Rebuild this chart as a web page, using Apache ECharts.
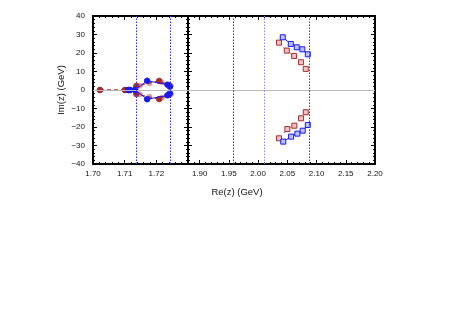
<!DOCTYPE html>
<html>
<head>
<meta charset="utf-8">
<script src="https://cdn.jsdelivr.net/npm/echarts@6/dist/echarts.min.js"></script>
<style>html,body{margin:0;padding:0;background:#fff}#c{width:470px;height:329px}</style>
</head>
<body>
<div id="c"></div>
<script>
// ---------- data ----------
// Left panel (Re 1.70 - 1.73)
const leftBlueX      = [1.7112, 1.7117, 1.7133, 1.7171, 1.7235, 1.7243];
const leftBlueUpperY = [0, 0, 0, 5.0, 2.9, 1.8];
const leftBlueLowerY = [0, 0, 0, -5.0, -2.9, -1.8];
const leftRedX       = [1.7022, 1.7101, 1.7137, 1.7209, 1.7241];
const leftRedUpperY  = [0, 0, 2.2, 4.9, 2.3];
const leftRedLowerY  = [0, 0, -2.2, -4.9, -2.3];
const leftPinkX      = [1.7148, 1.7178, 1.7217, 1.7246];
const leftPinkUpperY = [2.3, 3.6, 4.2, 2.3];
const leftPinkLowerY = [-2.3, -3.6, -4.2, -2.3];
// Right panel (Re 1.88 - 2.20)
const rightBlueUpperX = [2.0422, 2.0559, 2.0661, 2.0757, 2.0850];
const rightBlueUpperY = [28.5, 24.9, 23.1, 22.0, 19.3];
const rightBlueLowerX = [2.0430, 2.0564, 2.0672, 2.0763, 2.0850];
const rightBlueLowerY = [-27.9, -25.2, -23.6, -22.0, -18.9];
const rightRedUpperX  = [2.0358, 2.0490, 2.0615, 2.0735, 2.0815];
const rightRedUpperY  = [25.6, 21.3, 18.4, 15.0, 11.4];
const rightRedLowerX  = [2.0358, 2.0500, 2.0620, 2.0735, 2.0815];
const rightRedLowerY  = [-26.1, -21.1, -19.3, -15.3, -12.0];
// reference lines
const leftVLines  = [1.7135, 1.7243];
const rightVLines = [1.9575, 2.0877];
const rightVLinesLight = [2.0100];
// tick labels
const leftXTicks  = [1.70, 1.71, 1.72];
const rightXTicks = [1.90, 1.95, 2.00, 2.05, 2.10, 2.15, 2.20];
const yTicks = [-40, -30, -20, -10, 0, 10, 20, 30, 40];

const xLabel = 'Re(z) (GeV)';
const yLabel = 'Im(z) (GeV)';

// ---------- helpers ----------
const zip = (xs, ys) => xs.map((x, i) => [x, ys[i]]);
const FONT = 'Liberation Sans';
const BLUE = '#1a1af0';
const RED = '#a82c2c';
const axisLine = { show: true, onZero: false, lineStyle: { color: '#000', width: 2 } };
const noLine = { show: false, onZero: false };

function yAxis(grid, pos, labels) {
  return {
    type: 'value', gridIndex: grid, position: pos, min: -40, max: 40, interval: 10,
    axisLine: axisLine,
    axisTick: { show: true, inside: true, length: 4, lineStyle: { color: '#000', width: 1 } },
    minorTick: { show: true, splitNumber: 5, length: 2, lineStyle: { color: '#000', width: 1 } },
    splitLine: { show: false },
    axisLabel: labels ? {
      show: true, fontFamily: FONT, fontSize: 8, color: '#111', margin: 8,
      formatter: v => (yTicks.indexOf(v) >= 0 ? String(v).replace('-', '\u2212') : '')
    } : { show: false },
    name: labels ? yLabel : '',
    nameLocation: 'middle', nameRotate: 90, nameGap: 27,
    nameTextStyle: { fontFamily: FONT, fontSize: 9.5, color: '#111' }
  };
}

const xAxes = [
  // 0: left bottom
  {
    type: 'value', gridIndex: 0, position: 'bottom', min: 1.70, max: 1.73, interval: 0.01,
    axisLine: axisLine,
    axisTick: { show: true, inside: true, length: 4, lineStyle: { color: '#000' } },
    minorTick: { show: true, splitNumber: 5, length: 2, lineStyle: { color: '#000' } },
    splitLine: { show: false },
    axisLabel: {
      fontFamily: FONT, fontSize: 8, color: '#111', margin: 6,
      formatter: v => (leftXTicks.some(t => Math.abs(t - v) < 1e-6) ? v.toFixed(2) : '')
    }
  },
  // 1: left top
  {
    type: 'value', gridIndex: 0, position: 'top', min: 1.70, max: 1.73, interval: 0.01,
    axisLine: axisLine,
    axisTick: { show: true, inside: true, length: 4, lineStyle: { color: '#000' } },
    minorTick: { show: true, splitNumber: 5, length: 2, lineStyle: { color: '#000' } },
    splitLine: { show: false }, axisLabel: { show: false }
  },
  // 2: right bottom major
  {
    type: 'value', gridIndex: 1, position: 'bottom', min: 1.88, max: 2.20,
    axisLine: axisLine,
    axisTick: { show: true, inside: true, length: 4, customValues: rightXTicks, lineStyle: { color: '#000' } },
    splitLine: { show: false },
    axisLabel: {
      fontFamily: FONT, fontSize: 8, color: '#111', margin: 6, customValues: rightXTicks,
      formatter: v => v.toFixed(2)
    }
  },
  // 3: right bottom minor
  {
    type: 'value', gridIndex: 1, position: 'bottom', min: 1.88, max: 2.20, interval: 0.01,
    axisLine: noLine,
    axisTick: { show: true, inside: true, length: 2, lineStyle: { color: '#000' } },
    splitLine: { show: false }, axisLabel: { show: false }
  },
  // 4: right top major
  {
    type: 'value', gridIndex: 1, position: 'top', min: 1.88, max: 2.20,
    axisLine: axisLine,
    axisTick: { show: true, inside: true, length: 4, customValues: rightXTicks, lineStyle: { color: '#000' } },
    splitLine: { show: false }, axisLabel: { show: false, customValues: rightXTicks }
  },
  // 5: right top minor
  {
    type: 'value', gridIndex: 1, position: 'top', min: 1.88, max: 2.20, interval: 0.01,
    axisLine: noLine,
    axisTick: { show: true, inside: true, length: 2, lineStyle: { color: '#000' } },
    splitLine: { show: false }, axisLabel: { show: false }
  }
];

const yAxes = [yAxis(0, 'left', true), yAxis(0, 'right', false), yAxis(1, 'left', false), yAxis(1, 'right', false)];

function vLines(vals, color) {
  return vals.map(v => ({ xAxis: v, lineStyle: { color: color, type: [1.5, 1.5], width: 1 } }));
}
const zeroLine = { yAxis: 0, lineStyle: { color: '#b8b8b8', type: 'solid', width: 1 } };

function line(grid, data, color, opts) {
  const xi = grid === 0 ? 0 : 2, yi = grid === 0 ? 0 : 2;
  return Object.assign({
    type: 'line', xAxisIndex: xi, yAxisIndex: yi, data: data,
    symbol: 'circle', symbolSize: 5.5, animation: false,
    lineStyle: { color: color, width: 1 },
    itemStyle: { color: color, borderColor: color, borderWidth: 1 },
    z: 3
  }, opts || {});
}

const series = [
  // reference lines (left)
  {
    type: 'line', xAxisIndex: 0, yAxisIndex: 0, data: [], animation: false, silent: true,
    markLine: { symbol: 'none', precision: 5, label: { show: false }, silent: true, animation: false,
      data: [zeroLine].concat(vLines(leftVLines, '#2a2aff')) }
  },
  // reference lines (right)
  {
    type: 'line', xAxisIndex: 2, yAxisIndex: 2, data: [], animation: false, silent: true,
    markLine: { symbol: 'none', precision: 5, label: { show: false }, silent: true, animation: false,
      data: [zeroLine].concat(vLines(rightVLines, '#2a2aff'), vLines(rightVLinesLight, '#8c8cff')) }
  },
  // left pink (faded) markers
  line(0, zip(leftPinkX, leftPinkUpperY), '#e2a0a0', { lineStyle: { width: 0 }, symbolSize: 5, z: 2 }),
  line(0, zip(leftPinkX, leftPinkLowerY), '#e2a0a0', { lineStyle: { width: 0 }, symbolSize: 5, z: 2 }),
  // left red dashed
  line(0, zip(leftRedX, leftRedUpperY), RED, { lineStyle: { color: RED, width: 1.2, type: [4, 3] } }),
  line(0, zip(leftRedX, leftRedLowerY), RED, { lineStyle: { color: RED, width: 1.2, type: [4, 3] } }),
  // left blue solid
  line(0, zip(leftBlueX, leftBlueUpperY), BLUE, { z: 4 }),
  line(0, zip(leftBlueX, leftBlueLowerY), BLUE, { z: 4 }),
  // right red squares dashed
  line(1, zip(rightRedUpperX, rightRedUpperY), RED, { symbol: 'rect', symbolSize: 5,
    lineStyle: { color: RED, width: 1, type: [2, 5] }, itemStyle: { color: '#f0c4c4', borderColor: RED, borderWidth: 1 } }),
  line(1, zip(rightRedLowerX, rightRedLowerY), RED, { symbol: 'rect', symbolSize: 5,
    lineStyle: { color: RED, width: 1, type: [2, 5] }, itemStyle: { color: '#f0c4c4', borderColor: RED, borderWidth: 1 } }),
  // right blue squares solid
  line(1, zip(rightBlueUpperX, rightBlueUpperY), BLUE, { symbol: 'rect', symbolSize: 5,
    itemStyle: { color: '#b8c0ff', borderColor: BLUE, borderWidth: 1 } }),
  line(1, zip(rightBlueLowerX, rightBlueLowerY), BLUE, { symbol: 'rect', symbolSize: 5,
    itemStyle: { color: '#b8c0ff', borderColor: BLUE, borderWidth: 1 } })
];

const chart = echarts.init(document.getElementById('c'), null, { renderer: 'canvas' });
chart.setOption({
  animation: false,
  backgroundColor: '#fff',
  grid: [
    { left: 93, top: 16, width: 95, height: 148, containLabel: false },
    { left: 188, top: 16, width: 187, height: 148, containLabel: false }
  ],
  xAxis: xAxes,
  yAxis: yAxes,
  series: series,
  graphic: [{
    type: 'text', x: 237, y: 187,
    style: { text: xLabel, fontFamily: FONT, fontSize: 9.5, fill: '#111', align: 'center', textAlign: 'center' }
  }]
});
</script>
</body>
</html>
